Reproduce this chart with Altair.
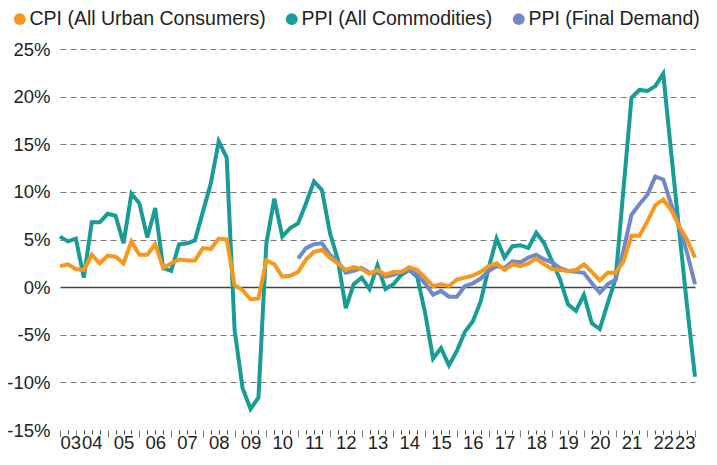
import altair as alt
import pandas as pd

# Quarterly observations, 2003 Q2 ... 2023 Q2 (index 0..80)
quarters = [f"{2003 + (i + 1) // 4}Q{(i + 1) % 4 + 1}" for i in range(81)]

cpi = [2.2, 2.4, 1.9, 1.8, 3.4, 2.5, 3.3, 3.2, 2.5, 4.8,
       3.4, 3.4, 4.5, 2.0, 2.5, 2.9, 2.8, 2.8, 4.1, 4.0,
       5.1, 5.0, 0.2, -0.3, -1.3, -1.2, 2.8, 2.4, 1.1, 1.2,
       1.6, 2.9, 3.7, 3.9, 3.1, 2.5, 1.8, 2.1, 1.9, 1.4,
       1.8, 1.3, 1.6, 1.6, 2.1, 1.8, 1.0, 0.1, 0.3, 0.1,
       0.8, 1.0, 1.2, 1.6, 2.2, 2.5, 1.8, 2.4, 2.2, 2.5,
       3.0, 2.4, 1.9, 1.8, 1.7, 1.8, 2.4, 1.6, 0.7, 1.5,
       1.5, 2.7, 5.4, 5.4, 6.9, 8.6, 9.2, 8.1, 6.4, 5.0,
       3.1]

ppi_all = [5.3, 4.8, 5.1, 1.0, 6.8, 6.8, 7.7, 7.5, 4.6, 9.8,
           8.8, 5.2, 8.3, 2.0, 1.7, 4.5, 4.6, 4.9, 7.9, 10.9,
           15.3, 13.6, -4.5, -10.6, -12.8, -11.6, 4.6, 9.3, 5.3, 6.2,
           6.7, 8.8, 11.1, 10.2, 5.7, 2.9, -2.2, 0.3, 1.0, -0.2,
           2.3, -0.2, 0.3, 1.3, 1.8, 1.1, -2.7, -7.5, -6.4, -8.2,
           -6.7, -4.7, -3.6, -1.5, 2.0, 5.1, 3.1, 4.3, 4.4, 4.1,
           5.7, 4.6, 2.7, 0.8, -1.8, -2.5, -0.8, -3.8, -4.4, -1.7,
           0.9, 10.4, 19.9, 20.7, 20.6, 21.1, 22.4, 14.1, 6.0, -2.0,
           -9.4]

ppi_fd_start = 30  # series begins 2010 Q4
ppi_fd = [3.0, 4.1, 4.5, 4.6, 3.4, 2.7, 1.5, 1.7, 2.0, 1.5,
          1.5, 1.1, 1.3, 1.6, 1.8, 1.3, 0.4, -0.8, -0.4, -1.0,
          -1.0, 0.1, 0.4, 0.9, 1.7, 2.2, 2.0, 2.7, 2.6, 3.1,
          3.4, 2.9, 2.6, 2.0, 1.7, 1.6, 1.5, 0.4, -0.6, 0.3,
          0.8, 3.9, 7.6, 8.7, 9.7, 11.6, 11.3, 8.7, 6.4, 3.6,
          0.3]

series_names = ["CPI (All Urban Consumers)", "PPI (All Commodities)", "PPI (Final Demand)"]
colors = ["#F7981D", "#179D96", "#7189C9"]
y_ticks = [-15, -10, -5, 0, 5, 10, 15, 20, 25]

rows = []
for i, v in enumerate(cpi):
    rows.append({"q": i, "quarter": quarters[i], "value": v, "series": series_names[0]})
for i, v in enumerate(ppi_all):
    rows.append({"q": i, "quarter": quarters[i], "value": v, "series": series_names[1]})
for k, v in enumerate(ppi_fd):
    i = ppi_fd_start + k
    rows.append({"q": i, "quarter": quarters[i], "value": v, "series": series_names[2]})
df = pd.DataFrame(rows)

FONT = "Liberation Sans"
AXIS_FS = 18.5
BIG_TICK = "datum.value % 4 == 2 || datum.value == 0 || datum.value == 80"
END_TICK = "datum.value == 0 || datum.value == 80"

x_enc = alt.X(
    "q:Q",
    scale=alt.Scale(domain=[0, 80], nice=False, zero=False),
    axis=alt.Axis(
        title=None,
        values=list(range(81)),
        labelExpr="datum.value % 4 == 0 ? format(3 + datum.value / 4, '02d') : ''",
        labelFlush=True,
        labelOverlap=False,
        labelPadding={"condition": {"test": END_TICK, "value": -4}, "value": -1},
        labelFont=FONT,
        labelFontSize=AXIS_FS,
        labelColor="#222222",
        grid=False,
        domain=False,
        tickSize={"condition": {"test": BIG_TICK, "value": 7}, "value": 4},
        tickColor={"condition": {"test": BIG_TICK, "value": "#7a7a7a"}, "value": "#444444"},
        tickWidth=1,
    ),
)

y_enc = alt.Y(
    "value:Q",
    scale=alt.Scale(domain=[-15, 25], nice=False, zero=False),
    axis=alt.Axis(
        title=None,
        values=y_ticks,
        labelExpr="datum.value + '%'",
        labelPadding=10,
        labelFont=FONT,
        labelFontSize=AXIS_FS,
        labelColor="#222222",
        ticks=False,
        domain=False,
        grid=True,
        gridColor={"condition": {"test": "datum.value == 0", "value": "#444444"}, "value": "#7a7a7a"},
        gridDash={"condition": {"test": "datum.value == 0", "value": [1, 0]}, "value": [6, 4]},
        gridWidth={"condition": {"test": "datum.value == 0", "value": 1.5}, "value": 1.2},
        gridOpacity={"condition": {"test": "datum.value == -15", "value": 0}, "value": 1},
    ),
)

color_scale = alt.Scale(domain=series_names, range=colors)

legend = alt.Legend(
    title=None,
    orient="none",
    legendX=-50,
    legendY=-40,
    direction="horizontal",
    symbolType="circle",
    symbolSize=140,
    symbolStrokeWidth=0,
    labelFont=FONT,
    labelFontSize=19.5,
    labelColor="#222222",
    labelLimit=400,
    labelOffset=0,
    columnPadding=16,
)

# empty circle layer: only provides filled-circle legend symbols
legend_layer = (
    alt.Chart(df)
    .transform_filter("false")
    .mark_circle(opacity=1)
    .encode(x=x_enc, y=y_enc, color=alt.Color("series:N", scale=color_scale, legend=legend))
)


def line_layer(name):
    return (
        alt.Chart(df)
        .transform_filter(alt.datum.series == name)
        .mark_line(strokeWidth=4, strokeJoin="miter")
        .encode(x=x_enc, y=y_enc,
                color=alt.Color("series:N", scale=color_scale, legend=None),
                order="q:Q")
    )


chart = (
    alt.layer(
        legend_layer,
        line_layer(series_names[1]),
        line_layer(series_names[2]),
        line_layer(series_names[0]),
    )
    .properties(
        width=635,
        height=381,
        background="white",
        autosize=alt.AutoSizeParams(type="none"),
        padding={"left": 52, "top": 41, "right": 14, "bottom": 27},
    )
    .configure_view(strokeOpacity=0)
)

chart.save("out.html", embed_options={"renderer": "svg", "actions": False})
